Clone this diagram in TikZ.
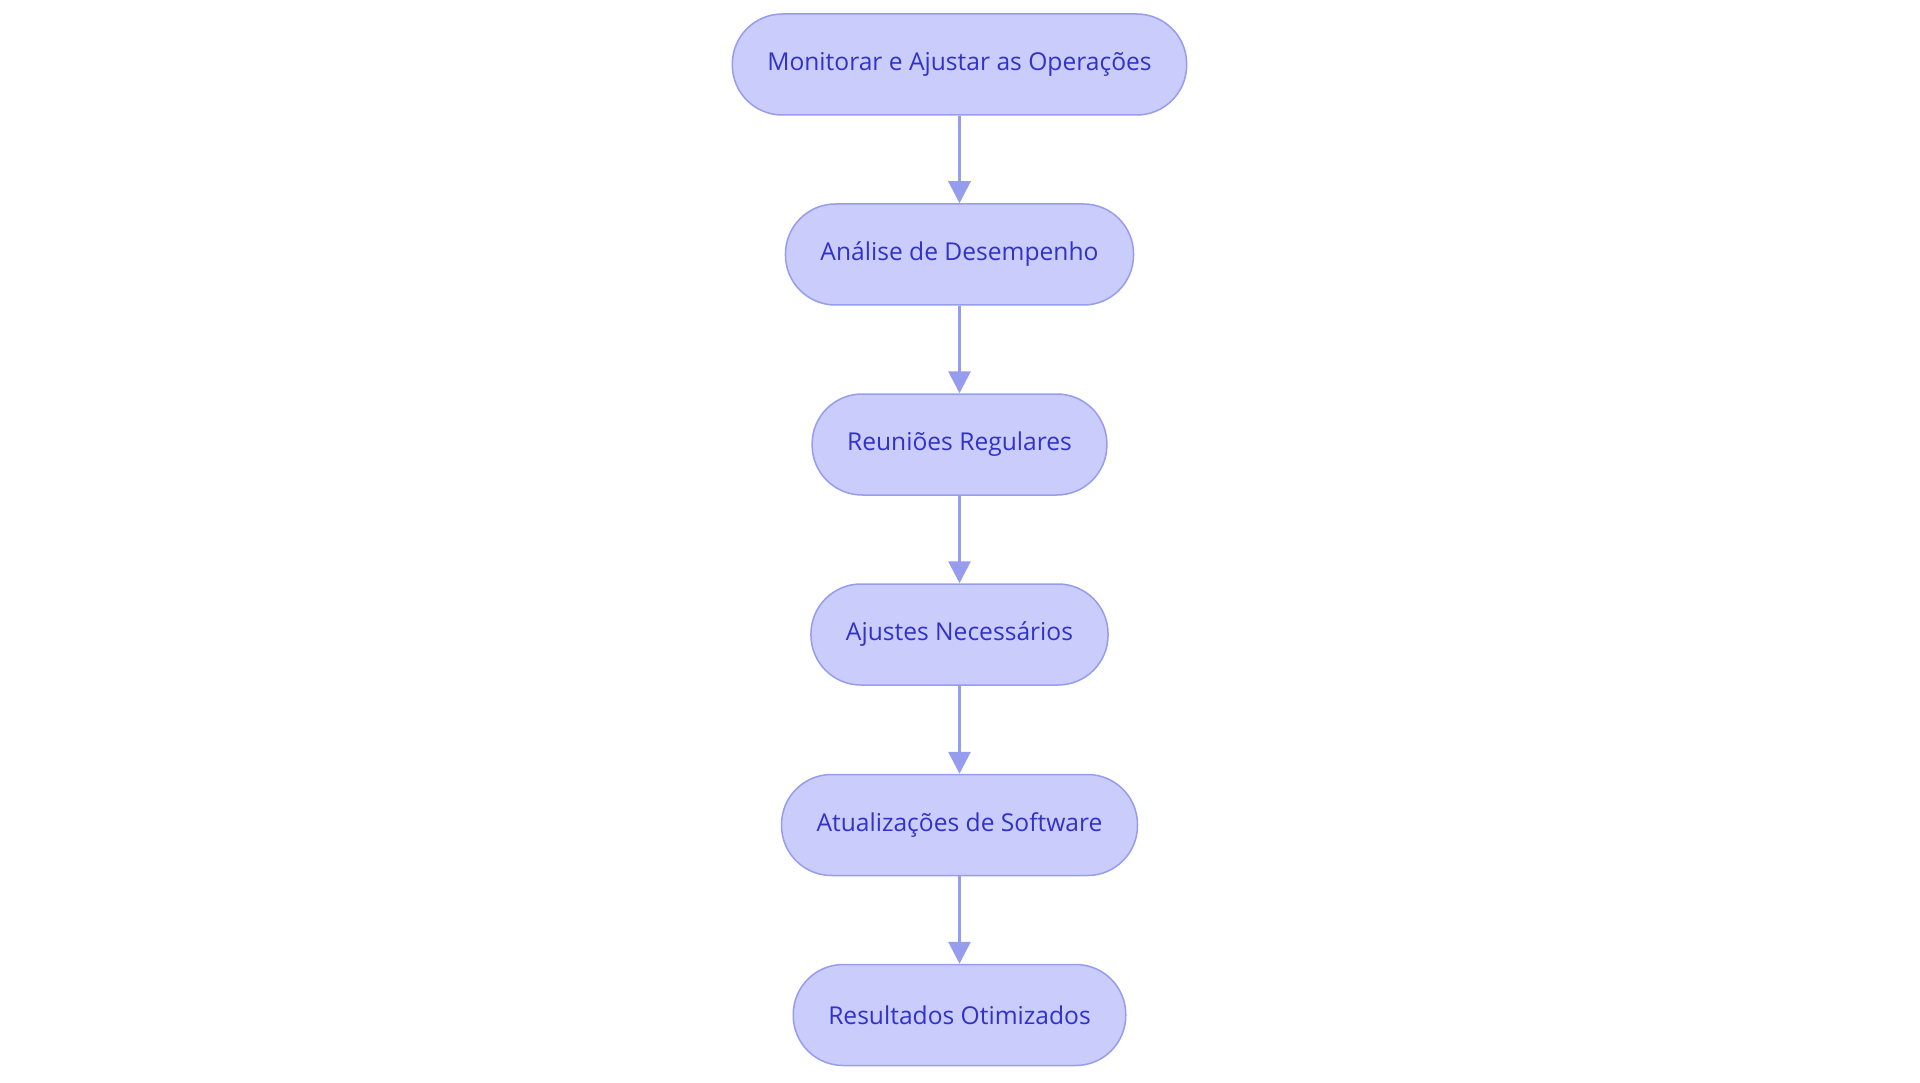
\documentclass[tikz,border=0pt]{standalone}
\usepackage{fontspec}
\setmainfont{Open Sans}
\usetikzlibrary{arrows.meta}

\definecolor{boxfill}{RGB}{202,204,252}
\definecolor{boxline}{RGB}{150,156,238}
\definecolor{boxtext}{RGB}{48,50,200}

\tikzset{
  stepnode/.style={draw=boxline, line width=1.5pt, fill=boxfill, text=boxtext,
    rounded corners=50pt, minimum height=101pt, inner xsep=35pt,
    font=\fontsize{24.6}{29}\selectfont},
  flow/.style={draw=boxline, line width=3pt,
    -{Triangle[width=22pt,length=22pt]}}
}

\begin{document}
\begin{tikzpicture}[x=1pt, y=1pt]
  \useasboundingbox (0,0) rectangle (1920,-1083);

  \node[stepnode] (M) at (959.5,-64.5)  {Monitorar e Ajustar as Operações};
  \node[stepnode] (A) at (959.5,-254.5) {Análise de Desempenho};
  \node[stepnode] (R) at (959.5,-444.5) {Reuniões Regulares};
  \node[stepnode] (J) at (959.5,-634.5) {Ajustes Necessários};
  \node[stepnode] (S) at (959.5,-825)   {Atualizações de Software};
  \node[stepnode] (O) at (959.5,-1015)  {Resultados Otimizados};

  \draw[flow] (M)--(A);
  \draw[flow] (A)--(R);
  \draw[flow] (R)--(J);
  \draw[flow] (J)--(S);
  \draw[flow] (S)--(O);
\end{tikzpicture}
\end{document}
